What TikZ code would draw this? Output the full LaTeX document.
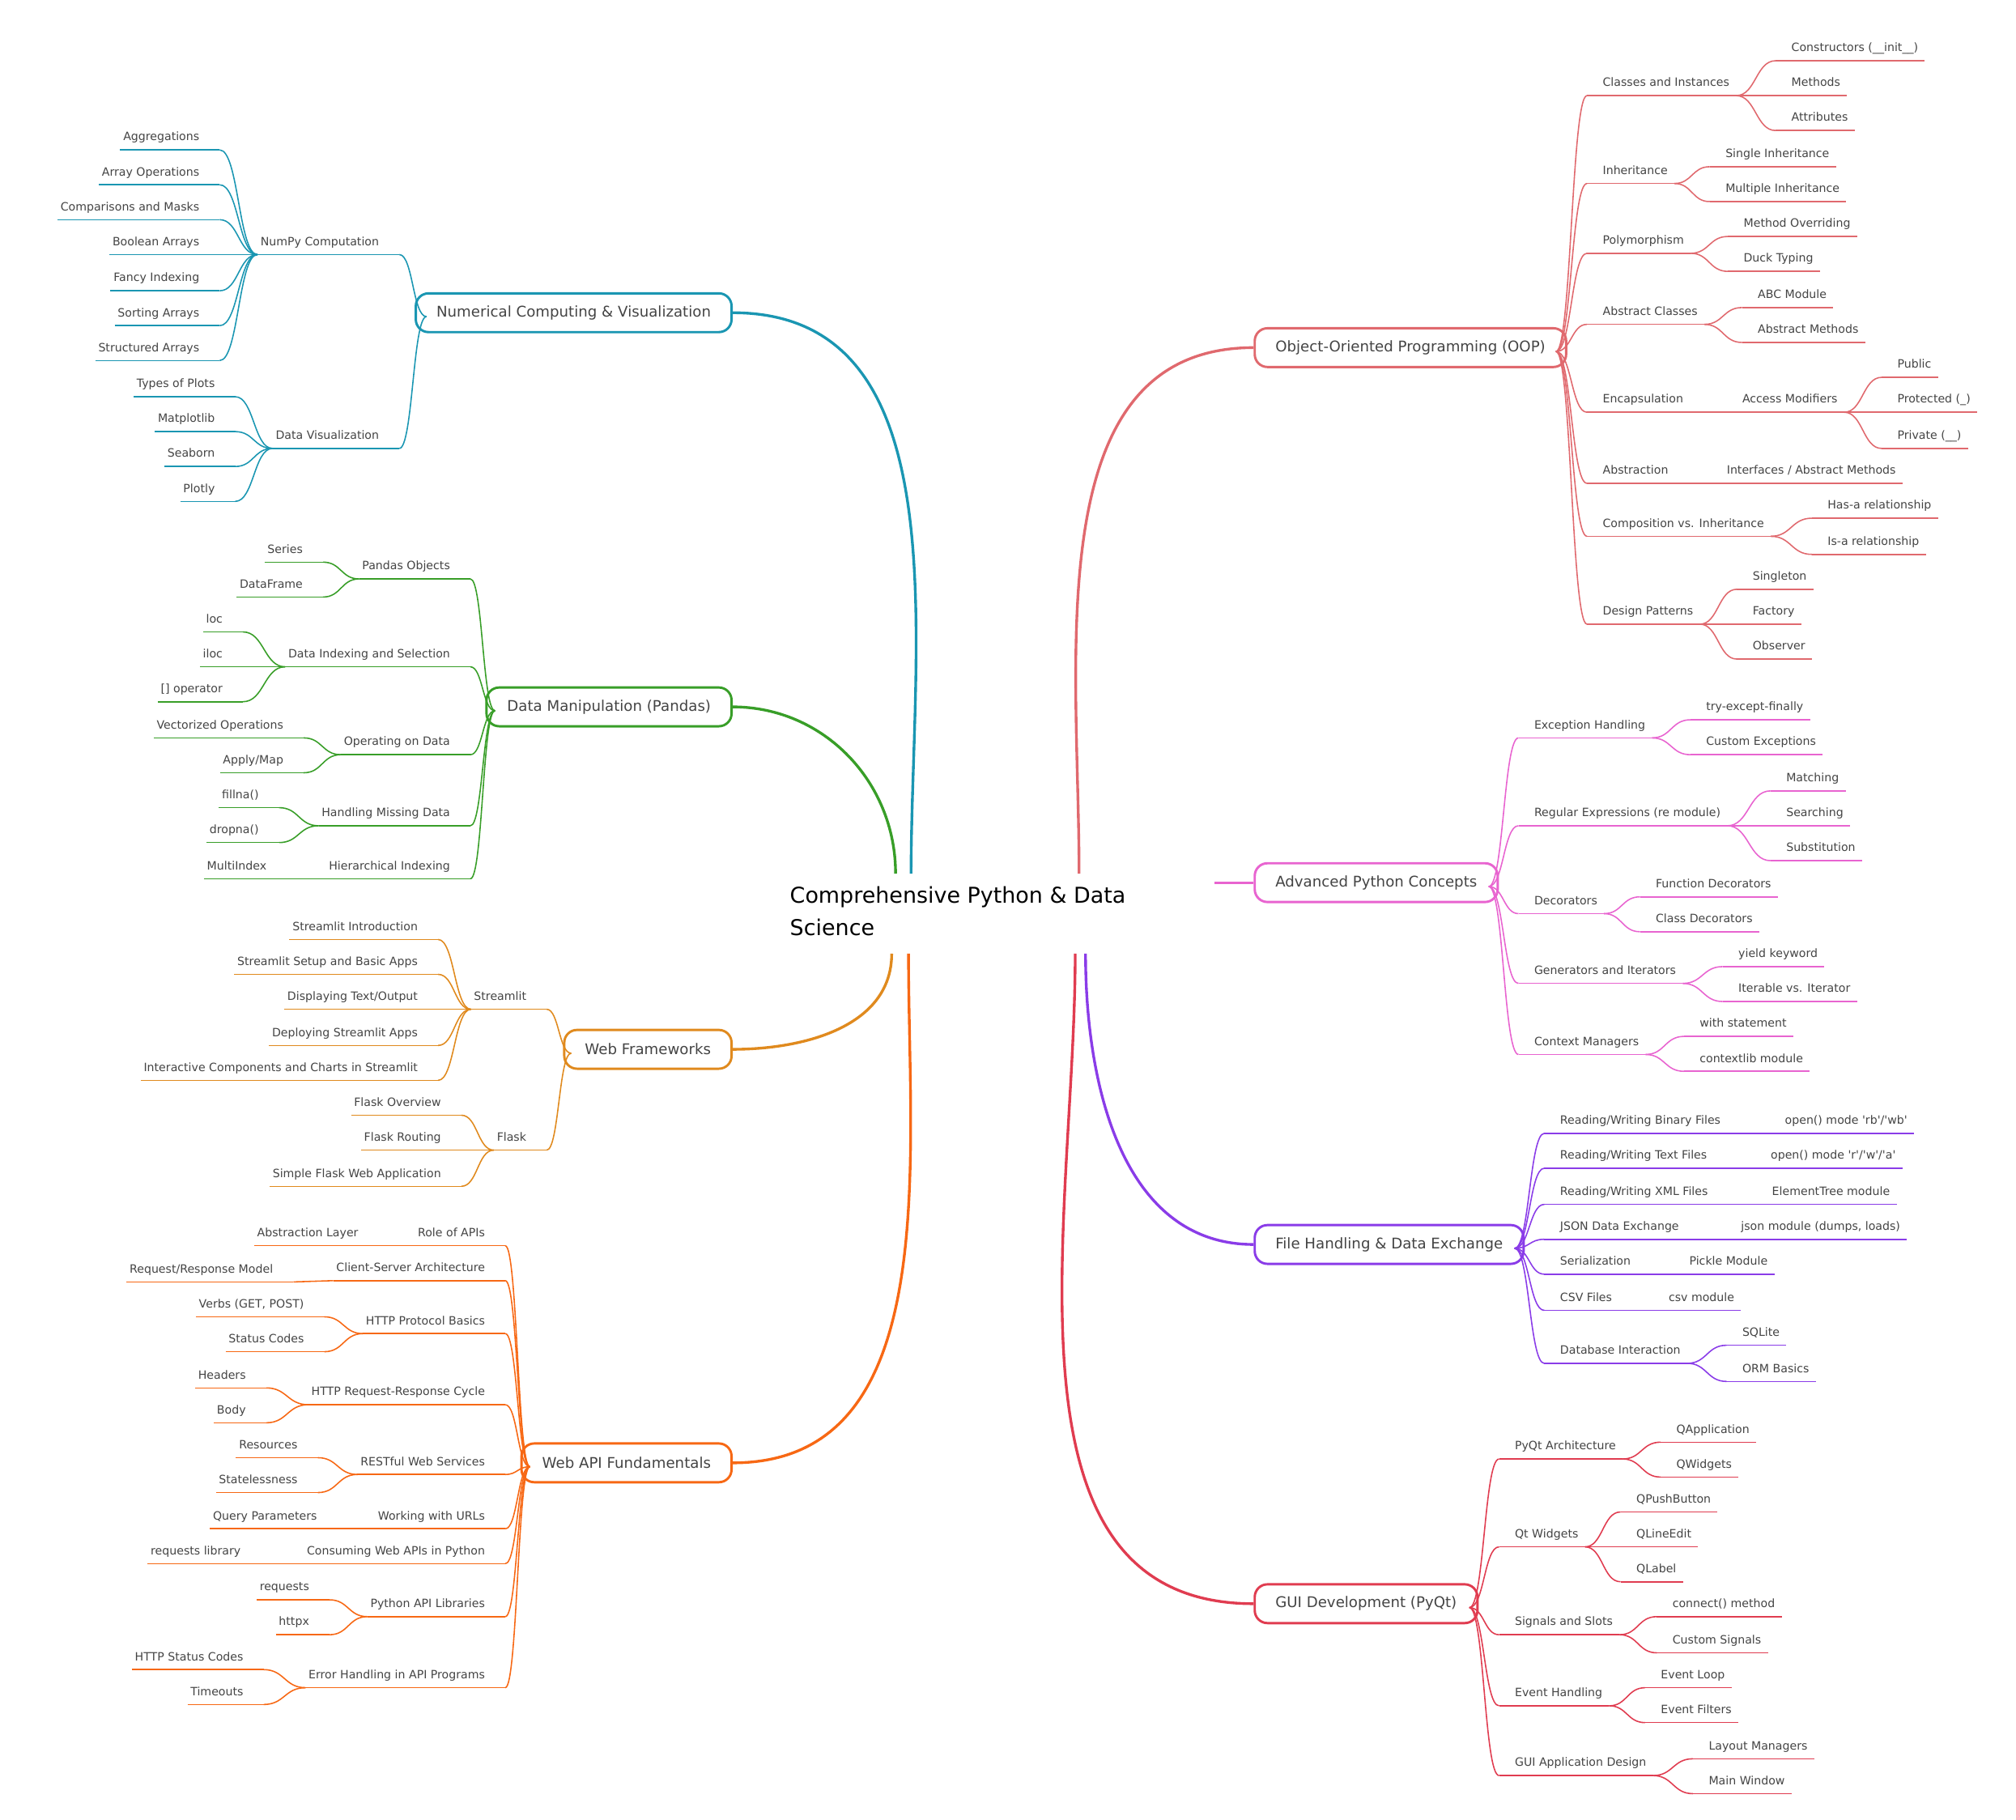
\documentclass[tikz,border=0pt]{standalone}
\usepackage{fontspec}
\setmainfont{DejaVu Sans}
\usetikzlibrary{calc}
\definecolor{tgrey}{RGB}{68,68,68}
\definecolor{cNum}{RGB}{26,150,178}
\definecolor{cPd}{RGB}{56,158,40}
\definecolor{cWf}{RGB}{224,138,30}
\definecolor{cApi}{RGB}{247,104,20}
\definecolor{cOop}{RGB}{224,105,110}
\definecolor{cAdv}{RGB}{232,100,208}
\definecolor{cFile}{RGB}{138,60,232}
\definecolor{cGui}{RGB}{224,60,80}
\newcommand\leaffont{\fontsize{6.3}{7}\selectfont}
\newcommand\boxfont{\fontsize{8.1}{10}\selectfont}
\newcommand\q{\textquotesingle}
\begin{document}
\begin{tikzpicture}[x=0.025cm,y=-0.025cm,
    leaf/.style={text=tgrey,font=\leaffont,inner xsep=0pt,inner ysep=3.4pt,
      text height=4.6pt,text depth=1.4pt,
      append after command={(\tikzlastnode.south west) edge[draw,line width=.7pt] (\tikzlastnode.south east)}},
    rl/.style={leaf,anchor=south west,execute at begin node=\hspace*{8.5pt},execute at end node=\hspace*{3.5pt}},
    ll/.style={leaf,anchor=south east,execute at begin node=\hspace*{1.5pt},execute at end node=\hspace*{11pt}},
    box/.style={draw=#1,rounded corners=7pt,line width=1.3pt,minimum height=0.75cm,
      inner xsep=0.4cm,text=tgrey,font=\boxfont,fill=white},
    link/.style={line width=.7pt,to path={let \p1=(\tikztostart), \p2=(\tikztotarget) in
      .. controls ({(\x1+\x2)/2},\y1) and ({(\x1+\x2)/2},\y2) .. (\tikztotarget)}},
    main/.style={line width=1.5pt}]
  \useasboundingbox (0,0) rectangle (1560,1408);

  % centre
  \node[anchor=north west,inner sep=0pt,align=left,font=\fontsize{12}{17.8}\selectfont]
    (root) at (611,686) {Comprehensive Python \& Data\\Science};

  % main boxes
  \node[box=cNum,anchor=east] (num) at (567,242) {Numerical Computing \& Visualization};
  \node[box=cPd,anchor=east] (pd) at (567,547) {Data Manipulation (Pandas)};
  \node[box=cWf,anchor=east] (wf) at (567,812) {Web Frameworks};
  \node[box=cApi,anchor=east] (api) at (567,1132) {Web API Fundamentals};
  \node[box=cOop,anchor=west] (oop) at (970,269) {Object-Oriented Programming (OOP)};
  \node[box=cAdv,anchor=west] (adv) at (970,683) {Advanced Python Concepts};
  \node[box=cFile,anchor=west] (file) at (970,963) {File Handling \& Data Exchange};
  \node[box=cGui,anchor=west] (gui) at (970,1241) {GUI Development (PyQt)};

  \coordinate (tNum) at (705,676);
  \coordinate (tPd) at (693,676);
  \coordinate (tWf) at (690,738);
  \coordinate (tApi) at (703,738);
  \coordinate (tOop) at (835,676);
  \coordinate (tAdv) at (940,683);
  \coordinate (tFile) at (840,738);
  \coordinate (tGui) at (832,738);
  \draw[main,cNum] (num.east) to[out=0,in=90] (tNum);
  \draw[main,cPd] (pd.east) to[out=0,in=90] (tPd);
  \draw[main,cWf] (wf.east) to[out=0,in=-90] (tWf);
  \draw[main,cApi] (api.east) to[out=0,in=-90] (tApi);
  \draw[main,cOop] (tOop) to[out=90,in=180] (oop.west);
  \draw[main,cAdv] (tAdv) -- (adv.west);
  \draw[main,cFile] (tFile) to[out=-90,in=180] (file.west);
  \draw[main,cGui] (tGui) to[out=-90,in=180] (gui.west);

  % Numerical Computing
  \begin{scope}[color=cNum]
    \coordinate (numR) at (330,245);
    \node[ll] (np) at (309,197) {NumPy Computation};
    \node[ll] (agg) at (170,116) {Aggregations};
    \node[ll] (arr) at (170,143) {Array Operations};
    \node[ll] (cmp) at (170,170) {Comparisons and Masks};
    \node[ll] (boo) at (170,197) {Boolean Arrays};
    \node[ll] (fan) at (170,225) {Fancy Indexing};
    \node[ll] (srt) at (170,252) {Sorting Arrays};
    \node[ll] (sta) at (170,279) {Structured Arrays};
    \node[ll] (dv) at (309,347) {Data Visualization};
    \node[ll] (top) at (182,307) {Types of Plots};
    \node[ll] (mpl) at (182,334) {Matplotlib};
    \node[ll] (sbn) at (182,361) {Seaborn};
    \node[ll] (ply) at (182,388) {Plotly};
    \foreach \c in {np,dv} \draw[link] (numR) to (\c.south east);
    \foreach \c in {agg,arr,cmp,boo,fan,srt,sta} \draw[link] (np.south west) to (\c.south east);
    \foreach \c in {top,mpl,sbn,ply} \draw[link] (dv.south west) to (\c.south east);
  \end{scope}

  % Pandas
  \begin{scope}[color=cPd]
    \coordinate (pdR) at (383,550);
    \node[ll] (pob) at (364,448) {Pandas Objects};
    \node[ll] (pser) at (250,435) {Series};
    \node[ll] (pdf) at (250,462) {DataFrame};
    \node[ll] (idx) at (364,516) {Data Indexing and Selection};
    \node[ll] (loc) at (188,489) {loc};
    \node[ll] (iloc) at (188,516) {iloc};
    \node[ll] (bop) at (188,543) {{[]} operator};
    \node[ll] (opd) at (364,584) {Operating on Data};
    \node[ll] (vec) at (235,571) {Vectorized Operations};
    \node[ll] (amap) at (235,598) {Apply/Map};
    \node[ll] (miss) at (364,639) {Handling Missing Data};
    \node[ll] (fna) at (216,625) {fillna()};
    \node[ll] (dna) at (216,652) {dropna()};
    \node[ll] (hier) at (364,680) {Hierarchical Indexing};
    \node[ll] (midx) at (222,680) {MultiIndex};
    \foreach \c in {pob,idx,opd,miss,hier} \draw[link] (pdR) to (\c.south east);
    \foreach \c in {pser,pdf} \draw[link] (pob.south west) to (\c.south east);
    \foreach \c in {loc,iloc,bop} \draw[link] (idx.south west) to (\c.south east);
    \foreach \c in {vec,amap} \draw[link] (opd.south west) to (\c.south east);
    \foreach \c in {fna,dna} \draw[link] (miss.south west) to (\c.south east);
    \draw[link] (hier.south west) to (midx.south east);
  \end{scope}

  % Web Frameworks
  \begin{scope}[color=cWf]
    \coordinate (wfR) at (442,815);
    \node[ll] (stl) at (423,781) {Streamlit};
    \node[ll] (s1) at (339,727) {Streamlit Introduction};
    \node[ll] (s2) at (339,754) {Streamlit Setup and Basic Apps};
    \node[ll] (s3) at (339,781) {Displaying Text/Output};
    \node[ll] (s4) at (339,809) {Deploying Streamlit Apps};
    \node[ll] (s5) at (339,836) {Interactive Components and Charts in Streamlit};
    \node[ll] (flk) at (423,890) {Flask};
    \node[ll] (f1) at (357,863) {Flask Overview};
    \node[ll] (f2) at (357,890) {Flask Routing};
    \node[ll] (f3) at (357,918) {Simple Flask Web Application};
    \foreach \c in {stl,flk} \draw[link] (wfR) to (\c.south east);
    \foreach \c in {s1,s2,s3,s4,s5} \draw[link] (stl.south west) to (\c.south east);
    \foreach \c in {f1,f2,f3} \draw[link] (flk.south west) to (\c.south east);
  \end{scope}

  % Web API
  \begin{scope}[color=cApi]
    \coordinate (apiR) at (410,1135);
    \node[ll] (role) at (391,964) {Role of APIs};
    \node[ll] (absl) at (293,964) {Abstraction Layer};
    \node[ll] (cs) at (391,991) {Client-Server Architecture};
    \node[ll] (rrm) at (227,992) {Request/Response Model};
    \node[ll] (http) at (391,1032) {HTTP Protocol Basics};
    \node[ll] (verb) at (251,1019) {Verbs (GET, POST)};
    \node[ll] (stc) at (251,1046) {Status Codes};
    \node[ll] (cyc) at (391,1087) {HTTP Request-Response Cycle};
    \node[ll] (hdr) at (206,1074) {Headers};
    \node[ll] (body) at (206,1101) {Body};
    \node[ll] (rest) at (391,1141) {RESTful Web Services};
    \node[ll] (res) at (246,1128) {Resources};
    \node[ll] (sless) at (246,1155) {Statelessness};
    \node[ll] (url) at (391,1183) {Working with URLs};
    \node[ll] (qp) at (261,1183) {Query Parameters};
    \node[ll] (cons) at (391,1210) {Consuming Web APIs in Python};
    \node[ll] (rlib) at (202,1210) {requests library};
    \node[ll] (plib) at (391,1251) {Python API Libraries};
    \node[ll] (req) at (255,1238) {requests};
    \node[ll] (hx) at (255,1265) {httpx};
    \node[ll] (err) at (391,1306) {Error Handling in API Programs};
    \node[ll] (hsc) at (204,1292) {HTTP Status Codes};
    \node[ll] (tmo) at (204,1319) {Timeouts};
    \foreach \c in {role,cs,http,cyc,rest,url,cons,plib,err} \draw[link] (apiR) to (\c.south east);
    \draw[link] (role.south west) to (absl.south east);
    \draw[link] (cs.south west) to (rrm.south east);
    \foreach \c in {verb,stc} \draw[link] (http.south west) to (\c.south east);
    \foreach \c in {hdr,body} \draw[link] (cyc.south west) to (\c.south east);
    \foreach \c in {res,sless} \draw[link] (rest.south west) to (\c.south east);
    \draw[link] (url.south west) to (qp.south east);
    \draw[link] (cons.south west) to (rlib.south east);
    \foreach \c in {req,hx} \draw[link] (plib.south west) to (\c.south east);
    \foreach \c in {hsc,tmo} \draw[link] (err.south west) to (\c.south east);
  \end{scope}

  % OOP
  \begin{scope}[color=cOop]
    \coordinate (oopR) at (1204,272);
    \node[rl] (cls) at (1228,74) {Classes and Instances};
    \node[rl] (ctor) at (1374,47) {Constructors (\_\_init\_\_)};
    \node[rl] (meth) at (1374,74) {Methods};
    \node[rl] (attr) at (1374,101) {Attributes};
    \node[rl] (inh) at (1228,142) {Inheritance};
    \node[rl] (sinh) at (1323,129) {Single Inheritance};
    \node[rl] (minh) at (1323,156) {Multiple Inheritance};
    \node[rl] (poly) at (1228,196) {Polymorphism};
    \node[rl] (movr) at (1337,183) {Method Overriding};
    \node[rl] (duck) at (1337,210) {Duck Typing};
    \node[rl] (abs) at (1228,251) {Abstract Classes};
    \node[rl] (abcm) at (1348,238) {ABC Module};
    \node[rl] (absm) at (1348,265) {Abstract Methods};
    \node[rl] (enc) at (1228,319) {Encapsulation};
    \node[rl] (acc) at (1336,319) {Access Modifiers};
    \node[rl] (pub) at (1456,292) {Public};
    \node[rl] (prot) at (1456,319) {Protected (\_)};
    \node[rl] (priv) at (1456,347) {Private (\_\_)};
    \node[rl] (abt) at (1228,374) {Abstraction};
    \node[rl] (ifc) at (1324,374) {Interfaces / Abstract Methods};
    \node[rl] (comp) at (1228,415) {Composition vs. Inheritance};
    \node[rl] (has) at (1402,401) {Has-a relationship};
    \node[rl] (isa) at (1402,429) {Is-a relationship};
    \node[rl] (dsg) at (1228,483) {Design Patterns};
    \node[rl] (sgl) at (1344,456) {Singleton};
    \node[rl] (fac) at (1344,483) {Factory};
    \node[rl] (obs) at (1344,510) {Observer};
    \foreach \c in {cls,inh,poly,abs,enc,abt,comp,dsg} \draw[link] (oopR) to (\c.south west);
    \foreach \c in {ctor,meth,attr} \draw[link] (cls.south east) to (\c.south west);
    \foreach \c in {sinh,minh} \draw[link] (inh.south east) to (\c.south west);
    \foreach \c in {movr,duck} \draw[link] (poly.south east) to (\c.south west);
    \foreach \c in {abcm,absm} \draw[link] (abs.south east) to (\c.south west);
    \draw[link] (enc.south east) to (acc.south west);
    \foreach \c in {pub,prot,priv} \draw[link] (acc.south east) to (\c.south west);
    \draw[link] (abt.south east) to (ifc.south west);
    \foreach \c in {has,isa} \draw[link] (comp.south east) to (\c.south west);
    \foreach \c in {sgl,fac,obs} \draw[link] (dsg.south east) to (\c.south west);
  \end{scope}

  % Advanced Python
  \begin{scope}[color=cAdv]
    \coordinate (advR) at (1152,686);
    \node[rl] (exc) at (1175,571) {Exception Handling};
    \node[rl] (tef) at (1308,557) {try-except-finally};
    \node[rl] (cexc) at (1308,584) {Custom Exceptions};
    \node[rl] (regex) at (1175,639) {Regular Expressions (re module)};
    \node[rl] (mat) at (1370,612) {Matching};
    \node[rl] (sea) at (1370,639) {Searching};
    \node[rl] (sub) at (1370,666) {Substitution};
    \node[rl] (deco) at (1175,707) {Decorators};
    \node[rl] (fdec) at (1269,694) {Function Decorators};
    \node[rl] (cdec) at (1269,721) {Class Decorators};
    \node[rl] (gen) at (1175,761) {Generators and Iterators};
    \node[rl] (yld) at (1333,748) {yield keyword};
    \node[rl] (itv) at (1333,775) {Iterable vs. Iterator};
    \node[rl] (ctx) at (1175,816) {Context Managers};
    \node[rl] (with) at (1303,802) {with statement};
    \node[rl] (ctxl) at (1303,829) {contextlib module};
    \foreach \c in {exc,regex,deco,gen,ctx} \draw[link] (advR) to (\c.south west);
    \foreach \c in {tef,cexc} \draw[link] (exc.south east) to (\c.south west);
    \foreach \c in {mat,sea,sub} \draw[link] (regex.south east) to (\c.south west);
    \foreach \c in {fdec,cdec} \draw[link] (deco.south east) to (\c.south west);
    \foreach \c in {yld,itv} \draw[link] (gen.south east) to (\c.south west);
    \foreach \c in {with,ctxl} \draw[link] (ctx.south east) to (\c.south west);
  \end{scope}

  % File Handling
  \begin{scope}[color=cFile]
    \coordinate (fileR) at (1172,966);
    \node[rl] (rbin) at (1195,877) {Reading/Writing Binary Files};
    \node[rl] (obin) at (1369,877) {open() mode \q rb\q/\q wb\q};
    \node[rl] (rtxt) at (1195,904) {Reading/Writing Text Files};
    \node[rl] (otxt) at (1358,904) {open() mode \q r\q/\q w\q/\q a\q};
    \node[rl] (rxml) at (1195,932) {Reading/Writing XML Files};
    \node[rl] (etree) at (1359,932) {ElementTree module};
    \node[rl] (json) at (1195,959) {JSON Data Exchange};
    \node[rl] (jmod) at (1335,959) {json module (dumps, loads)};
    \node[rl] (seri) at (1195,986) {Serialization};
    \node[rl] (pkl) at (1295,986) {Pickle Module};
    \node[rl] (csv) at (1195,1014) {CSV Files};
    \node[rl] (cmod) at (1279,1014) {csv module};
    \node[rl] (db) at (1195,1055) {Database Interaction};
    \node[rl] (sql) at (1336,1041) {SQLite};
    \node[rl] (orm) at (1336,1069) {ORM Basics};
    \foreach \c in {rbin,rtxt,rxml,json,seri,csv,db} \draw[link] (fileR) to (\c.south west);
    \draw[link] (rbin.south east) to (obin.south west);
    \draw[link] (rtxt.south east) to (otxt.south west);
    \draw[link] (rxml.south east) to (etree.south west);
    \draw[link] (json.south east) to (jmod.south west);
    \draw[link] (seri.south east) to (pkl.south west);
    \draw[link] (csv.south east) to (cmod.south west);
    \foreach \c in {sql,orm} \draw[link] (db.south east) to (\c.south west);
  \end{scope}

  % GUI
  \begin{scope}[color=cGui]
    \coordinate (guiR) at (1137,1244);
    \node[rl] (arch) at (1160,1129) {PyQt Architecture};
    \node[rl] (qapp) at (1285,1116) {QApplication};
    \node[rl] (qwid) at (1285,1143) {QWidgets};
    \node[rl] (qtw) at (1160,1197) {Qt Widgets};
    \node[rl] (qpb) at (1254,1170) {QPushButton};
    \node[rl] (qle) at (1254,1197) {QLineEdit};
    \node[rl] (qlab) at (1254,1224) {QLabel};
    \node[rl] (sig) at (1160,1265) {Signals and Slots};
    \node[rl] (conn) at (1282,1251) {connect() method};
    \node[rl] (csig) at (1282,1279) {Custom Signals};
    \node[rl] (evt) at (1160,1320) {Event Handling};
    \node[rl] (eloop) at (1273,1306) {Event Loop};
    \node[rl] (efil) at (1273,1333) {Event Filters};
    \node[rl] (gad) at (1160,1374) {GUI Application Design};
    \node[rl] (lay) at (1310,1361) {Layout Managers};
    \node[rl] (mwin) at (1310,1388) {Main Window};
    \foreach \c in {arch,qtw,sig,evt,gad} \draw[link] (guiR) to (\c.south west);
    \foreach \c in {qapp,qwid} \draw[link] (arch.south east) to (\c.south west);
    \foreach \c in {qpb,qle,qlab} \draw[link] (qtw.south east) to (\c.south west);
    \foreach \c in {conn,csig} \draw[link] (sig.south east) to (\c.south west);
    \foreach \c in {eloop,efil} \draw[link] (evt.south east) to (\c.south west);
    \foreach \c in {lay,mwin} \draw[link] (gad.south east) to (\c.south west);
  \end{scope}
\end{tikzpicture}
\end{document}
